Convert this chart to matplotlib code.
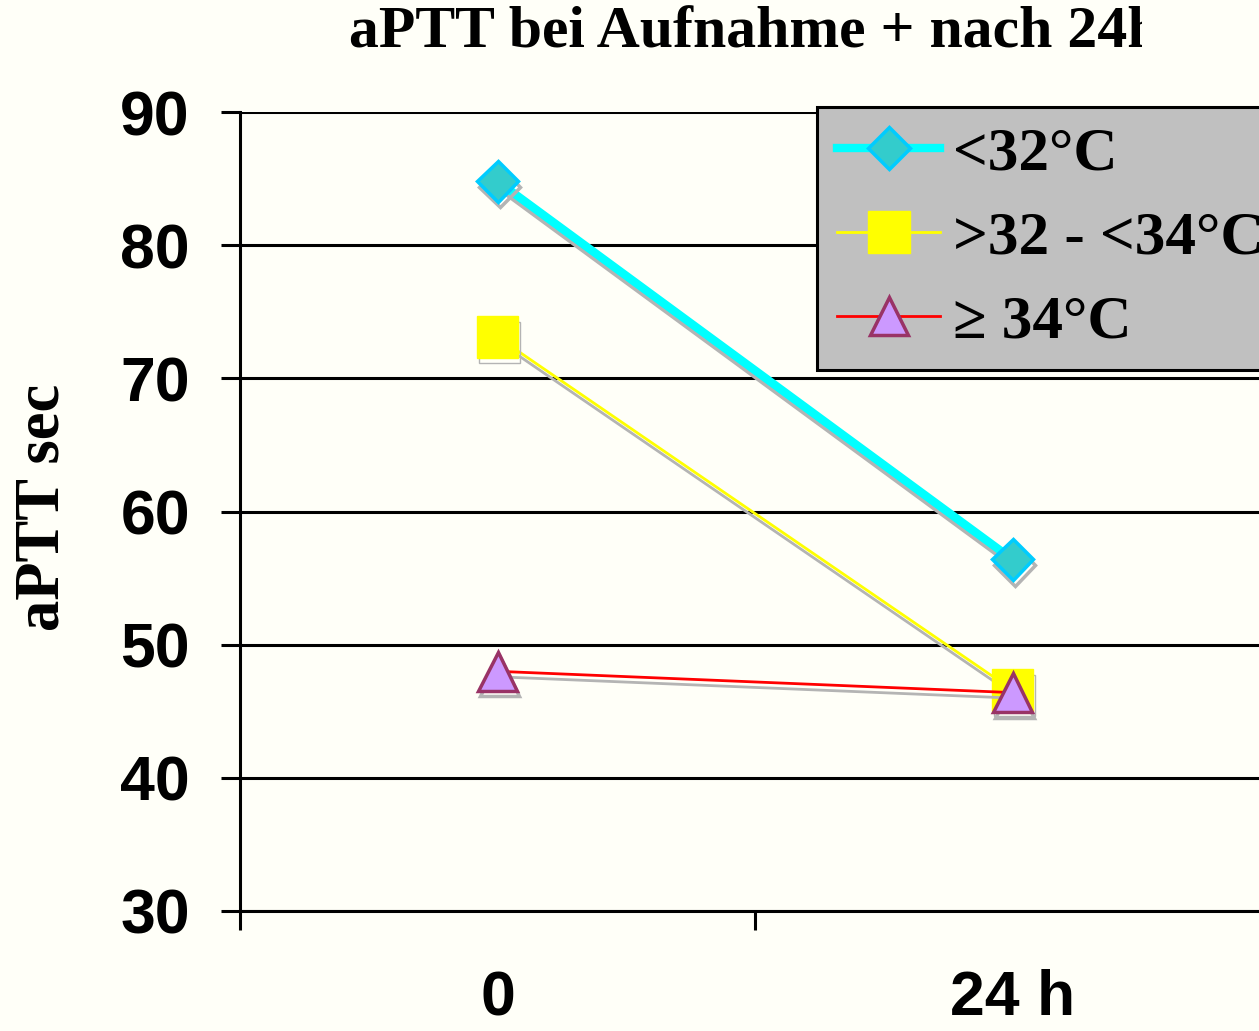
import matplotlib
matplotlib.use("Agg")
import matplotlib.pyplot as plt
import matplotlib.patheffects as pe
from matplotlib.transforms import Bbox

# data
times = ["0", "24 h"]
temp_below_32 = [84.8, 56.4]
temp_32_34 = [73.1, 46.6]
temp_above_34 = [48.0, 46.4]
series_labels = ["<32°C", ">32 - <34°C", "≥ 34°C"]
y_ticks = [30, 40, 50, 60, 70, 80, 90]

bg = "#FFFFF8"
fig = plt.figure(figsize=(12.59, 10.31), dpi=100, facecolor=bg)
ax = fig.add_axes([240 / 1259, 120 / 1031, 1030 / 1259, 799 / 1031])
ax.set_facecolor(bg)

shadow = [pe.SimpleLineShadow(offset=(1.5, -4), shadow_color="#B4B4B4", alpha=1), pe.Normal()]
x = list(range(len(times)))

ax.plot(x, temp_below_32, color="#00FFFF", lw=6, marker="D", ms=21,
        mfc="#33CCCC", mec="#00CCFF", mew=2.5, label=series_labels[0],
        path_effects=shadow, zorder=3)
ax.plot(x, temp_32_34, color="#FFFF00", lw=2, marker="s", ms=30,
        mfc="#FFFF00", mec="#FFFF00", mew=1, label=series_labels[1],
        path_effects=shadow, zorder=3)
ax.plot(x, temp_above_34, color="#FF0000", lw=2, marker="^", ms=28,
        mfc="#CC99FF", mec="#993366", mew=2.5, label=series_labels[2],
        path_effects=shadow, zorder=3)

ax.set_xlim(-0.5, 1.5)
ax.set_ylim(30, 90)
ax.set_yticks(y_ticks)
ax.yaxis.grid(True, color="black", lw=2.2)
ax.set_axisbelow(True)

ax.set_xticks(x)
ax.set_xticklabels(times)
ax.set_xticks([-0.5, 0.5, 1.5], minor=True)
ax.tick_params(axis="x", which="major", length=0, pad=42)
ax.tick_params(axis="x", which="minor", length=14, width=2.2, direction="out")
ax.tick_params(axis="y", length=14, width=2.2, direction="out", pad=22)
for lab in ax.get_xticklabels() + ax.get_yticklabels():
    lab.set_fontfamily("Liberation Sans")
    lab.set_fontweight("bold")
    lab.set_fontsize(45)

for s in ["top", "right"]:
    ax.spines[s].set_visible(False)
for s in ["left", "bottom"]:
    ax.spines[s].set_linewidth(2.2)

ax.set_ylabel("aPTT sec", family="Liberation Serif", weight="bold", fontsize=45)
ax.yaxis.set_label_coords(-0.163, 0.505)

title = fig.text(755 / 1259, 1 - 33 / 1031, "aPTT bei Aufnahme + nach 24h",
                 family="Liberation Serif", weight="bold", fontsize=43,
                 ha="center", va="center")
title.set_clip_box(Bbox.from_extents(0, 0, 1142, 1031))
title.set_clip_on(True)

leg = ax.legend(loc="upper left", bbox_to_anchor=(817 / 1259, 1 - 107 / 1031),
                bbox_transform=fig.transFigure, prop={"family": "Liberation Serif",
                "weight": "bold", "size": 44}, numpoints=1, handlelength=1.7,
                borderpad=0.32, labelspacing=0.46, handletextpad=0.2,
                fancybox=False, framealpha=1, facecolor="#C0C0C0",
                edgecolor="black", borderaxespad=0)
leg.get_frame().set_linewidth(2.2)
for h in leg.legend_handles:
    h.set_path_effects([])

fig.savefig("out.png", dpi=100, facecolor=bg)
